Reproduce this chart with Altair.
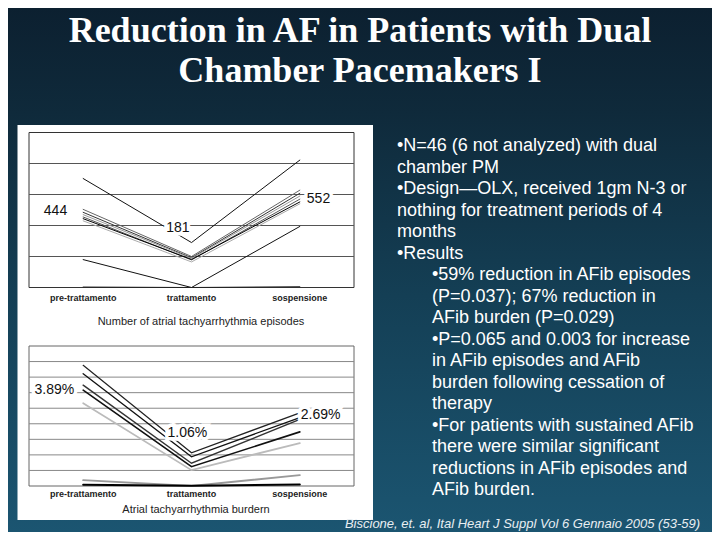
import altair as alt
import pandas as pd

# ---------------- data ----------------
phases = ["pre-trattamento", "trattamento", "sospensione"]

# Panel 1: number of atrial tachyarrhythmia episodes (one row per patient line)
ep_series = ["e1", "e2", "e3", "e4", "e5", "e6", "mean", "e7", "e8"]
ep_pre = [703, 504, 485, 470, 455, 430, 444, 180, 3]
ep_trat = [290, 200, 192, 188, 178, 165, 181, 0, 0]
ep_sosp = [822, 628, 608, 590, 570, 540, 552, 394, 5]
ep_labels = [444, 181, 552]

# Panel 2: atrial tachyarrhythmia burden (%)
bu_series = ["b1", "b2", "b3", "b4", "b5", "b6", "b7"]
bu_pre = [3.88, 3.61, 3.24, 3.08, 2.66, 0.19, 0.04]
bu_trat = [1.07, 0.94, 0.73, 0.62, 0.51, 0.0, 0.01]
bu_sosp = [2.35, 2.20, 2.14, 1.74, 1.38, 0.35, 0.05]
bu_labels = [3.89, 1.06, 2.69]

ep_grid = [200, 400, 600, 800]
bu_grid = [0.5, 1.0, 1.5, 2.0, 2.5, 3.0, 3.5, 4.0]

title_lines = ["Reduction in AF in Patients with Dual", "Chamber Pacemakers I"]
bullets_outer = [
    "\u2022N=46 (6 not analyzed) with dual",
    "chamber PM",
    "\u2022Design\u2014OLX, received 1gm N-3 or",
    "nothing for treatment periods of 4",
    "months",
    "\u2022Results",
]
bullets_inner = [
    "\u202259% reduction in AFib episodes",
    "(P=0.037); 67% reduction in",
    "AFib burden (P=0.029)",
    "\u2022P=0.065 and 0.003 for increase",
    "in AFib episodes and AFib",
    "burden following cessation of",
    "therapy",
    "\u2022For patients with sustained AFib",
    "there were similar significant",
    "reductions in AFib episodes and",
    "AFib burden.",
]
citation = "Biscione, et. al, Ital Heart J Suppl Vol 6 Gennaio 2005 (53-59)"
caption1 = "Number of atrial tachyarrhythmia episodes"
caption2 = "Atrial tachyarrhythmia burdern"

# ---------------- styles ----------------
ep_colors = ["#111111", "#666666", "#333333", "#999999", "#555555", "#aaaaaa", "#000000", "#111111", "#222222"]
ep_widths = [1, 1, 1, 1, 1.2, 1, 2.6, 1.2, 2.5]
bu_colors = ["#222222", "#111111", "#333333", "#111111", "#bbbbbb", "#999999", "#000000"]
bu_widths = [1.2, 2, 1.2, 1.6, 1, 1, 3]

W, H = 704, 524
SANS = "Liberation Sans"


def long_df(names, pre, trat, sosp):
    rows = []
    for n, a, b, c in zip(names, pre, trat, sosp):
        for i, v in enumerate([a, b, c]):
            rows.append({"series": n, "idx": i, "value": v})
    return pd.DataFrame(rows)


ep_df = long_df(ep_series, ep_pre, ep_trat, ep_sosp)
bu_df = long_df(bu_series, bu_pre, bu_trat, bu_sosp)
phase_df = pd.DataFrame({"idx": [0, 1, 2], "name": phases})


def panel(df, names, colors, widths, grid, ymax, yrange, xlab_y, labels, label_fmt, offsets,
          grid_color, frame_color):
    xs = alt.Scale(domain=[-0.5, 2.5], range=[21, 346], nice=False, zero=False)
    ys = alt.Scale(domain=[0, ymax], range=yrange, nice=False, zero=False)
    frame = alt.Chart(pd.DataFrame({"x": [-0.5], "x2": [2.5], "y": [0], "y2": [ymax]})).mark_rect(
        fill=None, stroke=frame_color, strokeWidth=1
    ).encode(
        x=alt.X("x:Q", scale=xs, axis=None), x2="x2:Q",
        y=alt.Y("y:Q", scale=ys, axis=None), y2="y2:Q",
    )
    gdf = pd.DataFrame({"g": grid, "x": -0.5, "x2": 2.5})
    gridl = alt.Chart(gdf).mark_rule(color=grid_color, strokeWidth=1).encode(
        x=alt.X("x:Q", scale=xs, axis=None), x2="x2:Q",
        y=alt.Y("g:Q", scale=ys, axis=None),
    )
    lines = alt.Chart(df).mark_line(strokeCap="round").encode(
        x=alt.X("idx:Q", scale=xs, axis=None),
        y=alt.Y("value:Q", scale=ys, axis=None),
        color=alt.Color("series:N", scale=alt.Scale(domain=names, range=colors), legend=None),
        strokeWidth=alt.StrokeWidth("series:O", scale=alt.Scale(domain=names, range=widths), legend=None),
        order=alt.Order("idx:Q"),
    )
    xlabels = alt.Chart(phase_df).mark_text(
        font=SANS, fontSize=9, fontWeight="bold", color="#222222", baseline="middle"
    ).encode(
        x=alt.X("idx:Q", scale=xs, axis=None), y=alt.value(xlab_y), text="name:N"
    )
    layers = [frame, gridl, lines, xlabels]
    for i, (val, (align, dx, dy)) in enumerate(zip(labels, offsets)):
        ldf = pd.DataFrame({"idx": [i], "value": [val], "t": [label_fmt.format(val)]})
        enc = dict(
            x=alt.X("idx:Q", scale=xs, axis=None),
            y=alt.Y("value:Q", scale=ys, axis=None),
            text="t:N",
        )
        # white knock-out behind the label, as on the original scan
        layers.append(
            alt.Chart(ldf).mark_text(
                font=SANS, fontSize=14, color="white", stroke="white", strokeWidth=7,
                align=align, baseline="middle", dx=dx, dy=dy
            ).encode(**enc)
        )
        layers.append(
            alt.Chart(ldf).mark_text(
                font=SANS, fontSize=14, color="#111111", align=align, baseline="middle", dx=dx, dy=dy
            ).encode(**enc)
        )
    return alt.layer(*layers)


chart1 = panel(
    ep_df, ep_series, ep_colors, ep_widths, ep_grid, 1000, [279.5, 124.5], 290, ep_labels, "{:.0f}",
    [("right", -16, -8), ("right", -2, -31), ("left", 7, -3)], "#555555", "#333333",
)
chart2 = panel(
    bu_df, bu_series, bu_colors, bu_widths, bu_grid, 4.5, [478, 338], 486, bu_labels, "{:.2f}%",
    [("right", -9, 25), ("left", -24, -20), ("left", 1, 13)], "#888888", "#666666",
)

one = alt.Data(values=[{"a": 1}])

bg = alt.Chart(one).mark_rect(
    fill=alt.Gradient(
        gradient="linear", x1=0, x2=0, y1=0, y2=1,
        stops=[
            alt.GradientStop(color="#0c2030", offset=0),
            alt.GradientStop(color="#0f2a3b", offset=0.2),
            alt.GradientStop(color="#143f55", offset=0.55),
            alt.GradientStop(color="#1b5571", offset=1),
        ],
    )
).encode(x=alt.value(0), x2=alt.value(W), y=alt.value(0), y2=alt.value(H))

white = alt.Chart(one).mark_rect(fill="white").encode(
    x=alt.value(9.5), x2=alt.value(365), y=alt.value(117), y2=alt.value(512)
)

title = alt.Chart(one).mark_text(
    text=title_lines, font="Liberation Serif", fontSize=36, fontWeight="bold", color="white",
    align="center", baseline="alphabetic", lineHeight=40,
).encode(x=alt.value(352), y=alt.value(34))

outer = alt.Chart(one).mark_text(
    text=bullets_outer, font=SANS, fontSize=18, color="white", align="left",
    baseline="alphabetic", lineHeight=21.5,
).encode(x=alt.value(389), y=alt.value(143))

inner = alt.Chart(one).mark_text(
    text=bullets_inner, font=SANS, fontSize=18, color="white", align="left",
    baseline="alphabetic", lineHeight=21.5,
).encode(x=alt.value(424), y=alt.value(272))

cite = alt.Chart(one).mark_text(
    text=citation, font=SANS, fontSize=13, fontStyle="italic", color="#e8eef2",
    align="right", baseline="middle",
).encode(x=alt.value(692), y=alt.value(516))

cap1 = alt.Chart(one).mark_text(
    text=caption1, font=SANS, fontSize=11, color="#222222", align="center", baseline="middle"
).encode(x=alt.value(193), y=alt.value(314))

cap2 = alt.Chart(one).mark_text(
    text=caption2, font=SANS, fontSize=11, color="#222222", align="center", baseline="middle"
).encode(x=alt.value(188), y=alt.value(502))

chart = alt.layer(
    bg, white, chart1, chart2, cap1, cap2, title, outer, inner, cite
).resolve_scale(
    x="independent", y="independent", color="independent", strokeWidth="independent"
).properties(
    width=W, height=H, padding=0, autosize=alt.AutoSizeParams(type="none"), background="#0c2030"
).configure_view(stroke=None)

chart.save("out.html", embed_options={"renderer": "svg", "actions": False})
